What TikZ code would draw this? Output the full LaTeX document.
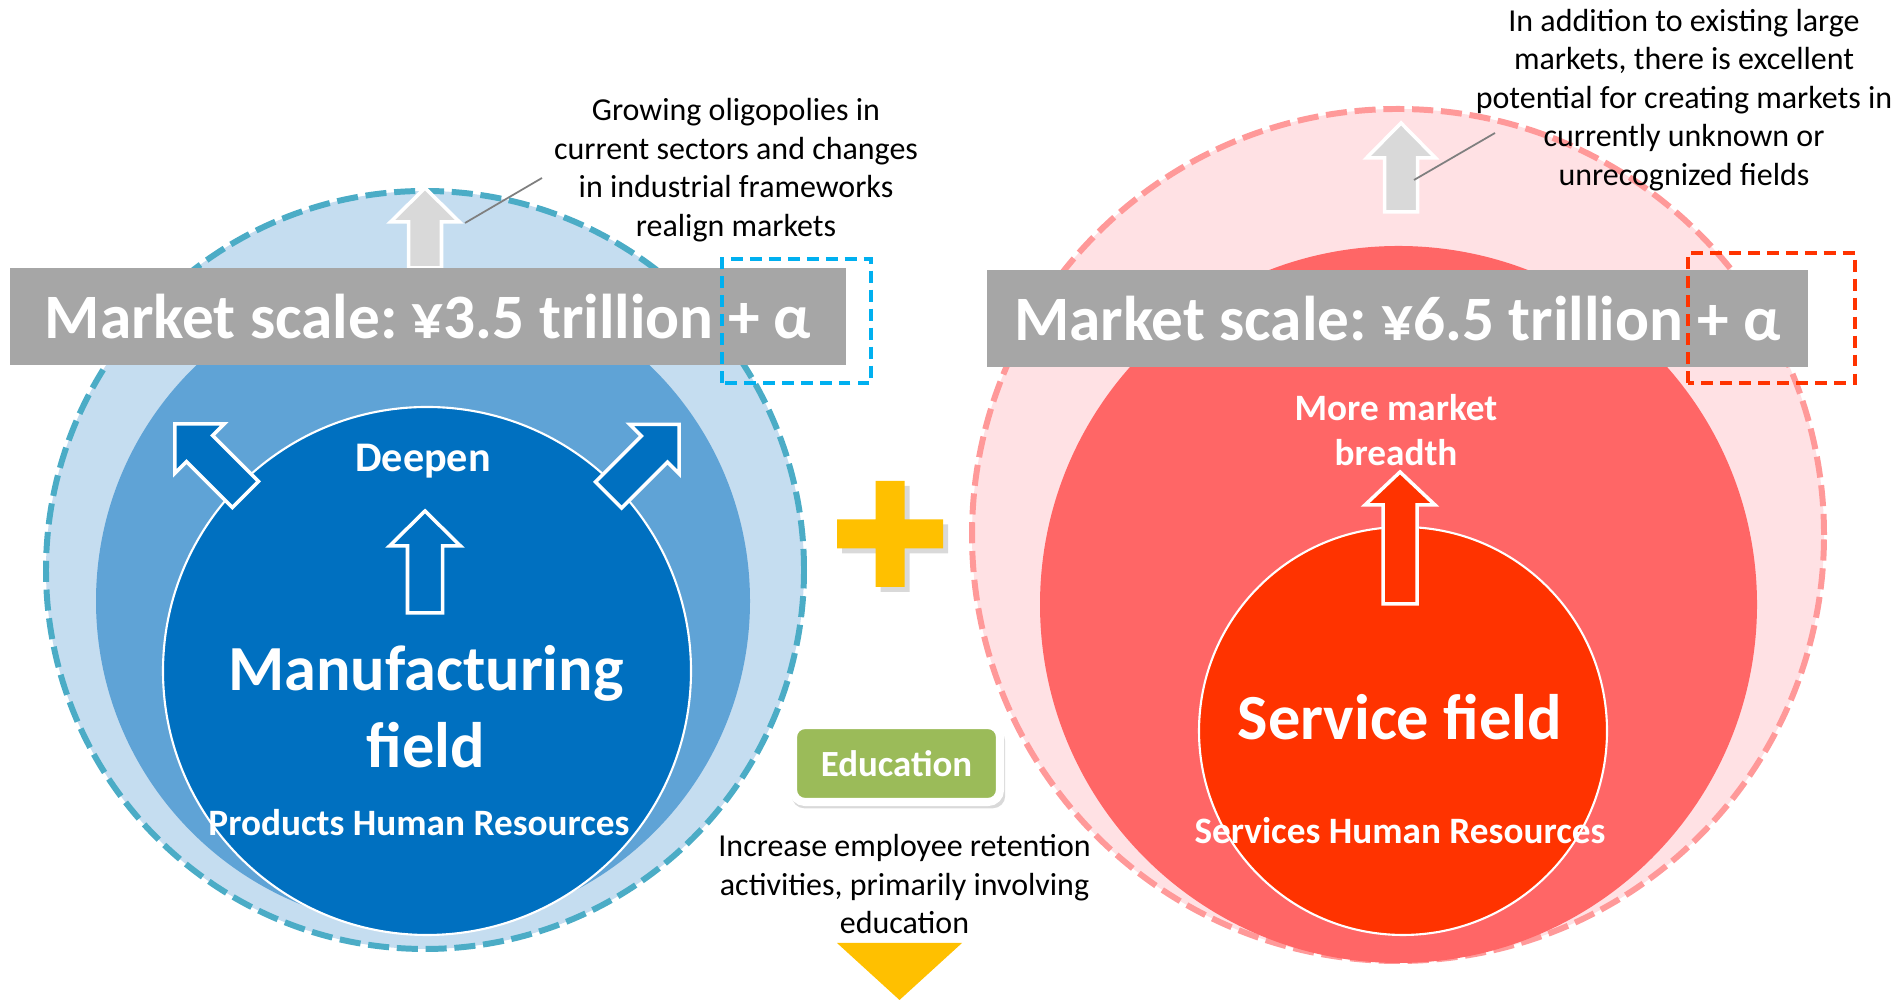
\documentclass[tikz,border=0pt]{standalone}
\usepackage{fontspec}
\setmainfont{Carlito}
\usetikzlibrary{positioning,shadows}

\definecolor{skyfill}{RGB}{197,221,240}
\definecolor{midblue}{RGB}{95,163,214}
\definecolor{deepblue}{RGB}{0,112,192}
\definecolor{ringblue}{RGB}{75,172,198}
\definecolor{boxblue}{RGB}{0,176,240}
\definecolor{pinkfill}{RGB}{255,225,228}
\definecolor{midred}{RGB}{255,102,102}
\definecolor{deepred}{RGB}{255,51,0}
\definecolor{ringpink}{RGB}{255,153,153}
\definecolor{bargray}{RGB}{166,166,166}
\definecolor{arrowgray}{RGB}{217,217,217}
\definecolor{linegray}{RGB}{127,127,127}
\definecolor{plusyellow}{RGB}{255,192,0}
\definecolor{edugreen}{RGB}{155,187,89}

% hollow block arrow, pointing up from its base: length/head length/shaft half width/head half width
\tikzset{
  pics/blockarrow/.style args={#1/#2/#3/#4}{code={
    \path[pic actions] (-#3,0) -- (-#3,#1-#2) -- (-#4,#1-#2) -- (0,#1)
      -- (#4,#1-#2) -- (#3,#1-#2) -- (#3,0) -- cycle;
  }}
}

\begin{document}
\frenchspacing
\begin{tikzpicture}[
  field/.style={circle, inner sep=0pt},
  ring/.style={line width=1.7pt, dash pattern=on 6pt off 2.2pt},
  bar/.style={fill=bargray, text=white, inner sep=0pt, minimum height=0.97cm,
    font=\fontsize{18}{20}\selectfont\bfseries},
  alphabox/.style={line width=0.95pt, dash pattern=on 3.4pt off 2pt},
  note/.style={align=center, font=\fontsize{9.1}{11}\selectfont},
  tag/.style={text=white, align=center, inner sep=0pt},
  callout/.style={draw=linegray, line width=0.5pt},
  outline/.style={draw=white, line width=1pt}
]
  \useasboundingbox (0,0) rectangle (18.97,10);

  % Manufacturing side
  \node[field, fill=skyfill, draw=ringblue, ring, minimum size=7.58cm] (mfgouter) at (4.25,4.30) {};
  \node[field, fill=midblue, minimum size=6.54cm] (mfgmid) at (4.23,3.99) {};
  \node[field, fill=deepblue, draw=white, line width=0.6pt, minimum size=5.28cm] (mfg) at (4.27,3.29) {};

  \pic[outline, fill=deepblue] at (4.25,3.87) {blockarrow=1.02/0.35/0.175/0.355};
  \pic[outline, fill=deepblue, rotate=45] at (2.455,5.055) {blockarrow=1.0/0.35/0.185/0.35};
  \pic[outline, fill=deepblue, rotate=-45] at (6.085,5.05) {blockarrow=1.0/0.35/0.185/0.35};

  \node[tag, font=\fontsize{12}{14}\selectfont\bfseries] (deepen) at (4.23,5.39) {Deepen};
  \node[tag, font=\fontsize{18.3}{21.9}\selectfont\bfseries] (mfgname) at (4.26,2.93) {Manufacturing\\field};
  \node[tag, font=\fontsize{10.6}{12}\selectfont\bfseries] (mfghr) at (4.19,1.77) {Products Human Resources};

  \pic[outline, fill=arrowgray] at (4.25,7.32) {blockarrow=0.80/0.34/0.165/0.345};
  \node[bar, minimum width=8.36cm] (mfgbar) at (4.28,6.835) {Market scale: ¥3.5 trillion + α};
  \draw[boxblue, alphabox] (7.22,6.17) rectangle (8.71,7.41);

  \coordinate (mfgtip) at (4.65,7.77);
  \coordinate (mfgend) at (5.42,8.22);
  \draw[callout] (mfgtip) -- (mfgend);
  \node[note] (mfgnote) at (7.36,8.30) {Growing oligopolies in\\current sectors and changes\\in industrial frameworks\\realign markets};

  % Service side
  \node[field, fill=pinkfill, draw=ringpink, ring, minimum size=8.52cm] (svcouter) at (13.98,4.65) {};
  \node[field, fill=midred, minimum size=7.17cm] (svcmid) at (13.985,3.955) {};
  \node[field, fill=deepred, draw=white, line width=0.6pt, minimum size=4.08cm] (svc) at (14.03,2.69) {};

  \pic[outline, fill=deepred] at (14.00,3.96) {blockarrow=1.32/0.33/0.17/0.35};

  \node[tag, font=\fontsize{10.6}{12.9}\selectfont\bfseries] (breadth) at (13.96,5.70) {More market\\breadth};
  \node[tag, font=\fontsize{18.3}{22}\selectfont\bfseries] (svcname) at (14.00,2.83) {Service field};
  \node[tag, font=\fontsize{10.6}{12}\selectfont\bfseries] (svchr) at (14.00,1.69) {Services Human Resources};

  \pic[outline, fill=arrowgray] at (14.01,7.88) {blockarrow=0.89/0.35/0.165/0.345};
  \node[bar, minimum width=8.21cm] (svcbar) at (13.975,6.815) {Market scale: ¥6.5 trillion + α};
  \draw[deepred, alphabox] (16.88,6.17) rectangle (18.55,7.47);

  \coordinate (svctip) at (14.14,8.20);
  \coordinate (svcend) at (14.95,8.67);
  \draw[callout] (svctip) -- (svcend);
  \node[note] (svcnote) at (16.84,9.00) {In addition to existing large\\markets, there is excellent\\potential for creating markets in\\currently unknown or\\unrecognized fields};

  % Plus, education and the way down
  \fill[plusyellow, drop shadow={shadow xshift=0.05cm, shadow yshift=-0.05cm, opacity=0.3}]
    (8.755,4.13) rectangle (9.045,5.19) (8.37,4.515) rectangle (9.43,4.805);

  \node[fill=edugreen, draw=white, line width=2.3pt, rounded corners=0.12cm,
    minimum width=2.07cm, minimum height=0.77cm, text=white,
    font=\fontsize{10.5}{12}\selectfont\bfseries,
    drop shadow={shadow xshift=0.02cm, shadow yshift=-0.05cm, shadow scale=1.03, opacity=0.3}] (edu) at (8.965,2.365) {Education};
  \node[note, below=0.16cm of edu, xshift=0.08cm] (retain) {Increase employee retention\\activities, primarily involving\\education};

  \coordinate (downl) at (8.37,0.57);
  \coordinate (downr) at (9.62,0.57);
  \coordinate (downtip) at (8.995,0.0);
  \fill[plusyellow] (downl) -- (downr) -- (downtip) -- cycle;
\end{tikzpicture}
\end{document}
